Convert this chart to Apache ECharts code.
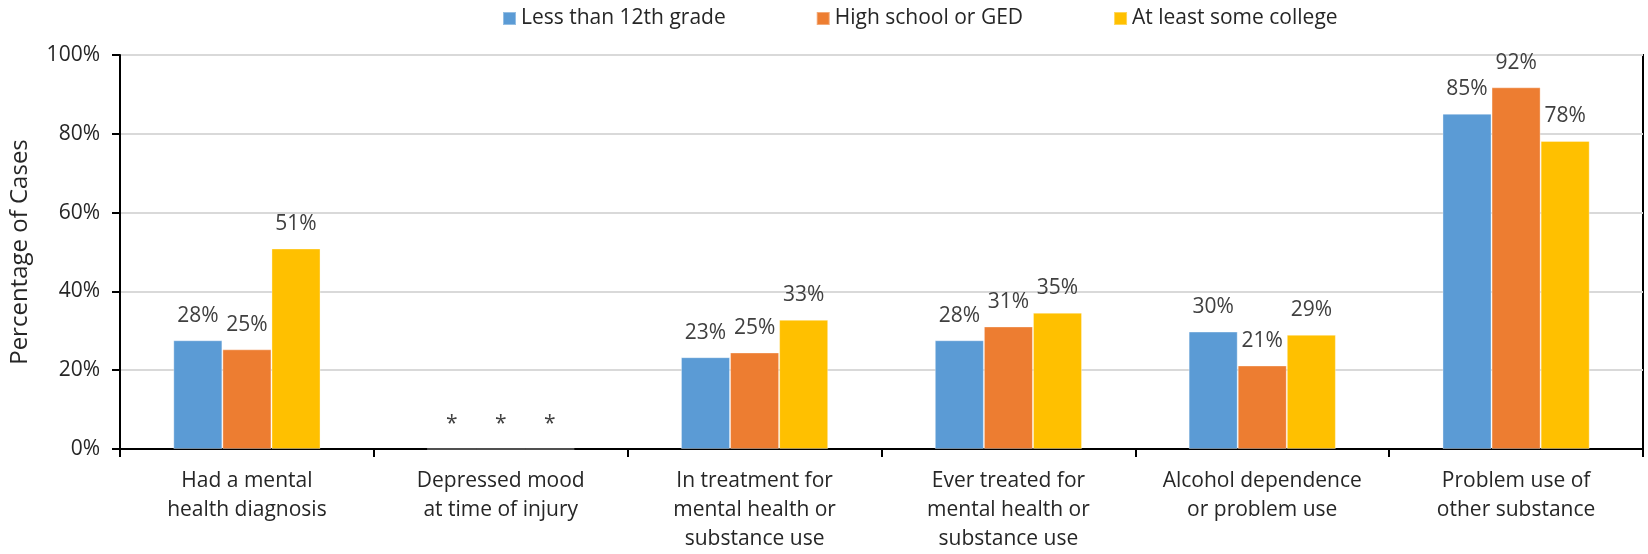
<!DOCTYPE html>
<html>
<head>
<meta charset="utf-8">
<script src="https://cdn.jsdelivr.net/npm/echarts@6/dist/echarts.min.js"></script>
<style>html,body{margin:0;padding:0;background:#fff}#c{width:1648px;height:554px}</style>
</head>
<body>
<div id="c"></div>
<script>
const categories = [
  "Had a mental\nhealth diagnosis",
  "Depressed mood\nat time of injury",
  "In treatment for\nmental health or\nsubstance use",
  "Ever treated for\nmental health or\nsubstance use",
  "Alcohol dependence\nor problem use",
  "Problem use of\nother substance"
];
const seriesNames = ["Less than 12th grade", "High school or GED", "At least some college"];
const lessThan12 = [27.6, 0, 23.3, 27.6, 29.8, 85.1];
const highSchool = [25.3, 0, 24.5, 31.1, 21.2, 91.8];
const someCollege = [50.9, 0, 32.8, 34.6, 29.0, 78.2];
const dataLabels = [
  ["28%", "*", "23%", "28%", "30%", "85%"],
  ["25%", "*", "25%", "31%", "21%", "92%"],
  ["51%", "*", "33%", "35%", "29%", "78%"]
];
const yTicks = [0, 20, 40, 60, 80, 100];
const colors = ["#5b9bd5", "#ed7d31", "#ffc000"];
const FONT = "Open Sans";

const values = [lessThan12, highSchool, someCollege];
const chart = echarts.init(document.getElementById('c'));
chart.setOption({
  animation: false,
  textStyle: { fontFamily: FONT },
  legend: {
    top: 3,
    left: 497,
    itemWidth: 13,
    itemHeight: 13,
    itemGap: 90,
    icon: 'rect',
    textStyle: { fontSize: 21, color: '#262626', fontFamily: FONT, width: 200, overflow: 'none' },
    data: seriesNames
  },
  grid: {
    left: 118, right: 5, top: 55, bottom: 103,
    show: true, borderColor: '#000', borderWidth: 2, backgroundColor: 'transparent'
  },
  xAxis: {
    type: 'category',
    data: categories,
    axisLine: { lineStyle: { color: '#000', width: 2 } },
    axisTick: { show: true, length: 8, lineStyle: { color: '#000', width: 2 } },
    axisLabel: { color: '#262626', fontSize: 21, lineHeight: 29, margin: 18, fontFamily: FONT, interval: 0 }
  },
  yAxis: {
    type: 'value',
    min: 0, max: 100, interval: 20,
    name: 'Percentage of Cases',
    nameLocation: 'middle',
    nameGap: 88,
    nameTextStyle: { fontSize: 24, color: '#262626', fontFamily: FONT },
    axisLine: { show: true, lineStyle: { color: '#000', width: 2 } },
    axisTick: { show: true, length: 8, lineStyle: { color: '#000', width: 2 } },
    axisLabel: { formatter: v => yTicks.includes(v) ? v + '%' : '', color: '#262626', fontSize: 21, margin: 20, fontFamily: FONT },
    splitLine: { lineStyle: { color: '#d9d9d9', width: 2 } }
  },
  series: seriesNames.map((name, i) => ({
    name,
    type: 'bar',
    data: values[i],
    barGap: '0%',
    barCategoryGap: '42%',
    itemStyle: { color: colors[i], borderColor: 'rgba(255,255,255,0.35)', borderWidth: 1 },
    label: {
      show: true,
      position: 'top',
      distance: 14,
      color: '#404040',
      fontSize: 21,
      fontFamily: FONT,
      formatter: p => dataLabels[i][p.dataIndex]
    }
  }))
});
</script>
</body>
</html>
